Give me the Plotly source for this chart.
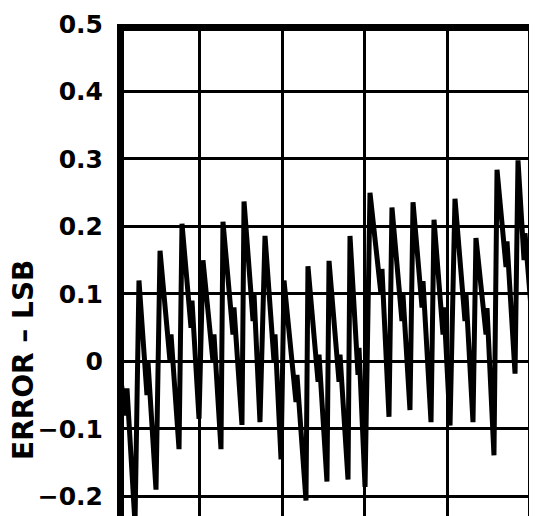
import plotly.graph_objects as go

# ---- data (x in codes, y in LSB) ----
peak_code = [0, 266, 521, 787, 1041, 1283, 1538, 1792, 2022, 2312,
             2567, 2821, 3063, 3329, 3584, 3838, 4092, 4346, 4601, 4855]
peak_err = [0.01, 0.12, 0.164, 0.204, 0.15, 0.207, 0.237, 0.186, 0.12, 0.141,
            0.149, 0.186, 0.25, 0.228, 0.236, 0.21, 0.241, 0.183, 0.284, 0.298]

step_lo_code = [109, 363, 642, 896, 1162, 1404, 1647, 1901, 2167, 2434,
                2688, 2918, 3196, 3450, 3693, 3947, 4213, 4468, 4710, 4928]
step_lo_err = [-0.08, -0.05, 0.0, 0.05, 0.0, 0.04, 0.06, 0.0, -0.06, -0.03,
               -0.03, -0.02, 0.1, 0.06, 0.08, 0.04, 0.06, 0.04, 0.14, 0.15]

step_hi_code = [121, 375, 654, 908, 1174, 1416, 1659, 1913, 2179, 2446,
                2700, 2930, 3208, 3462, 3705, 3959, 4225, 4480, 4722, 4940]
step_hi_err = [-0.04, 0.0, 0.04, 0.09, 0.04, 0.08, 0.1, 0.04, -0.02, 0.01,
               0.01, 0.02, 0.137, 0.1, 0.119, 0.08, 0.1, 0.079, 0.178, 0.19]

trough_code = [218, 472, 751, 993, 1259, 1513, 1731, 1986, 2288, 2542,
               2797, 3003, 3293, 3547, 3802, 4032, 4310, 4564, 4819, 5085]
trough_err = [-0.24, -0.19, -0.13, -0.085, -0.13, -0.094, -0.09, -0.145, -0.206, -0.178,
              -0.175, -0.186, -0.082, -0.072, -0.09, -0.095, -0.09, -0.139, -0.018, -0.03]

y_tick_vals = [0.5, 0.4, 0.3, 0.2, 0.1, 0, -0.1, -0.2]
y_tick_text = ["0.5", "0.4", "0.3", "0.2", "0.1", "0", "\u22120.1", "\u22120.2"]
y_title = "ERROR \u2013 LSB"

# ---- build the trace order: peak -> step -> trough for each tooth ----
xs, ys = [], []
for i in range(len(peak_code)):
    xs += [peak_code[i], step_lo_code[i], step_hi_code[i], trough_code[i]]
    ys += [peak_err[i], step_lo_err[i], step_hi_err[i], trough_err[i]]

fig = go.Figure()
fig.add_trace(go.Scatter(x=xs, y=ys, mode="lines",
                         line=dict(color="black", width=5),
                         hoverinfo="skip"))

# page body has an 8px margin, so the figure is 8px smaller than the window
fig.update_layout(
    width=529, height=508,
    margin=dict(l=109, r=0, t=16, b=0, pad=0),
    plot_bgcolor="white", paper_bgcolor="white",
    showlegend=False,
    xaxis=dict(range=[0, 5085], dtick=1000, tick0=0, showgrid=True,
               gridcolor="black", gridwidth=3, zeroline=False,
               showline=False, showticklabels=False, ticks=""),
    yaxis=dict(range=[-0.229, 0.5], tickmode="array",
               tickvals=y_tick_vals, ticktext=y_tick_text,
               showgrid=True, gridcolor="black", gridwidth=3,
               zeroline=False, showline=False, ticks="",
               ticklabelstandoff=13,
               tickfont=dict(family="DejaVu Sans", size=25, color="black",
                             weight="bold")),
    shapes=[
        dict(type="rect", xref="x", xsizemode="pixel", xanchor=0, x0=0, x1=7,
             yref="paper", y0=0, y1=1, fillcolor="black",
             line=dict(width=0), layer="above"),
        dict(type="rect", xref="paper", x0=0, x1=1, yref="y",
             ysizemode="pixel", yanchor=0.5, y0=-7, y1=0,
             fillcolor="black", line=dict(width=0), layer="above"),
    ],
    annotations=[
        dict(text=y_title, textangle=-90, xref="paper", yref="paper",
             x=(24 - 117) / 420, y=(516 - 360) / 492,
             xanchor="center", yanchor="middle", showarrow=False,
             font=dict(family="DejaVu Sans", size=28, color="black",
                       weight="bold")),
    ],
)

fig.write_html("out.html")
